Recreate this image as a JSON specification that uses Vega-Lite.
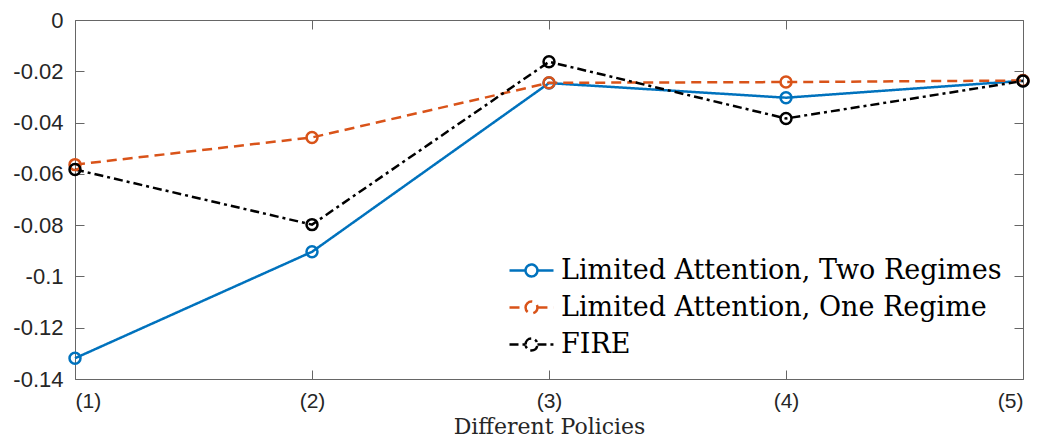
{
  "$schema": "https://vega.github.io/schema/vega-lite/v6.json",
  "width": 948,
  "height": 359,
  "autosize": {"type": "none"},
  "padding": {"left": 75, "top": 20, "right": 17, "bottom": 61},
  "background": "white",
  "config": {
    "view": {"stroke": "#666666", "strokeWidth": 1},
    "axis": {
      "domain": false,
      "grid": false,
      "tickColor": "#666666",
      "tickSize": -9,
      "labelFont": "Liberation Sans",
      "labelFontSize": 22,
      "labelColor": "#262626"
    }
  },
  "data": {
    "values": [
      {"policy": 1, "series": "Limited Attention, Two Regimes", "value": -0.1319},
      {"policy": 2, "series": "Limited Attention, Two Regimes", "value": -0.0904},
      {"policy": 3, "series": "Limited Attention, Two Regimes", "value": -0.0246},
      {"policy": 4, "series": "Limited Attention, Two Regimes", "value": -0.0303},
      {"policy": 5, "series": "Limited Attention, Two Regimes", "value": -0.0237},
      {"policy": 1, "series": "Limited Attention, One Regime", "value": -0.0564},
      {"policy": 2, "series": "Limited Attention, One Regime", "value": -0.0458},
      {"policy": 3, "series": "Limited Attention, One Regime", "value": -0.0245},
      {"policy": 4, "series": "Limited Attention, One Regime", "value": -0.0242},
      {"policy": 5, "series": "Limited Attention, One Regime", "value": -0.0236},
      {"policy": 1, "series": "FIRE", "value": -0.0583},
      {"policy": 2, "series": "FIRE", "value": -0.0798},
      {"policy": 3, "series": "FIRE", "value": -0.0163},
      {"policy": 4, "series": "FIRE", "value": -0.0384},
      {"policy": 5, "series": "FIRE", "value": -0.0238}
    ]
  },
  "layer": [
    {
      "mark": {"type": "line", "strokeWidth": 2.5},
      "encoding": {
        "x": {
          "field": "policy", "type": "quantitative",
          "scale": {"domain": [1, 5], "nice": false, "zero": false},
          "axis": {"values": [1, 2, 3, 4, 5], "labelExpr": "'(' + datum.value + ')'", "labelFont": "Liberation Sans", "labelFontSize": 21, "labelColor": "#262626", "title": "Different Policies", "titleFont": "DejaVu Serif", "titleFontSize": 22, "titleFontWeight": "normal", "titleColor": "#262626", "titlePadding": 5, "labelPadding": 20}
        },
        "y": {
          "field": "value", "type": "quantitative",
          "scale": {"domain": [-0.14, 0], "nice": false, "zero": false},
          "axis": {"values": [-0.14, -0.12, -0.1, -0.08, -0.06, -0.04, -0.02, 0], "labelExpr": "replace(format(datum.value, '.2~f'), '\u2212', '-')", "labelFont": "Liberation Sans", "labelFontSize": 22, "labelColor": "#262626", "title": null, "labelPadding": 21}
        },
        "color": {
          "field": "series", "type": "nominal",
          "scale": {"domain": ["Limited Attention, Two Regimes", "Limited Attention, One Regime", "FIRE"], "range": ["#0072BD", "#D95319", "#000000"]},
          "legend": {
            "title": null,
            "orient": "bottom-right",
            "offset": 21,
            "fillColor": "white",
            "labelFont": "DejaVu Serif",
            "labelFontSize": 27,
            "labelColor": "#000000",
            "labelLimit": 700,
            "rowPadding": -8,
            "symbolType": "M-1,0H-0.27M0.27,0H1M-0.27,0A0.27,0.27,0,1,1,0.27,0A0.27,0.27,0,1,1,-0.27,0",
            "symbolSize": 1936,
            "symbolStrokeWidth": 2.5,
            "symbolFillColor": "transparent",
            "labelOffset": 6
          }
        },
        "strokeDash": {
          "field": "series", "type": "nominal",
          "scale": {"domain": ["Limited Attention, Two Regimes", "Limited Attention, One Regime", "FIRE"], "range": [[1, 0], [10, 6], [9, 4, 3, 4]]},
          "legend": {"title": null}
        }
      }
    },
    {
      "mark": {"type": "point", "filled": false, "size": 120, "strokeWidth": 2.5, "opacity": 1},
      "encoding": {
        "x": {"field": "policy", "type": "quantitative", "axis": {"orient": "top", "values": [1, 2, 3, 4, 5], "labels": false, "title": null}},
        "y": {"field": "value", "type": "quantitative", "axis": {"orient": "right", "values": [-0.14, -0.12, -0.1, -0.08, -0.06, -0.04, -0.02, 0], "labels": false, "title": null}},
        "color": {"field": "series", "type": "nominal"}
      }
    }
  ],
  "resolve": {"axis": {"x": "independent", "y": "independent"}}
}
